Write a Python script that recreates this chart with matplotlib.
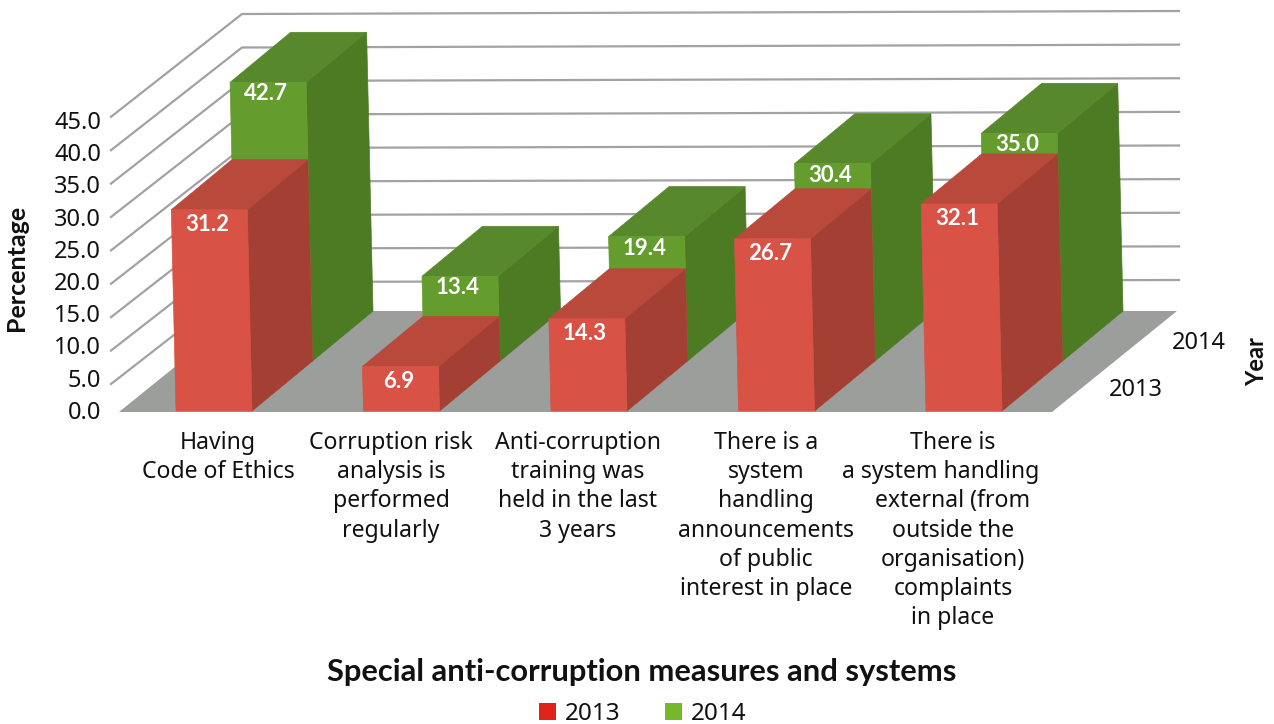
import matplotlib
matplotlib.use("Agg")
import matplotlib.pyplot as plt
from matplotlib.patches import Patch, Polygon

plt.rcParams['font.family'] = ['Noto Sans', 'DejaVu Sans']
BOLD = ['Lato', 'DejaVu Sans']

categories = [
    "Having\nCode of Ethics",
    "Corruption risk\nanalysis is\nperformed\nregularly",
    "Anti-corruption\ntraining was\nheld in the last\n3 years",
    "There is a\nsystem\nhandling\nannouncements\nof public\ninterest in place",
    "There is\na system handling    \nexternal (from\noutside the\norganisation)\ncomplaints\nin place",
]
values_2013 = [31.2, 6.9, 14.3, 26.7, 32.1]
values_2014 = [42.7, 13.4, 19.4, 30.4, 35.0]
y_ticks = [0, 5, 10, 15, 20, 25, 30, 35, 40, 45]
years = ["2013", "2014"]

# colours: front, top, side
RED = ("#D85246", "#B8493B", "#A43F34")
GREEN = ("#649C2E", "#57882B", "#4C7B23")

BAR_W = 76
SLOT = 187.5
LEAN = 0.15
FLOOR_Y = 411


def project(cat, row, v):
    # row 0 = 2013, row 1 = 2014; returns front-left corner of the bar top
    unit = [6.45, 6.62][row]
    drop = [0, 4][row]
    base_x = 176 + SLOT * cat + 60.5 * row
    base_y = FLOOR_Y - 50 * row
    h = unit * v - drop if v > 0 else 0
    return base_x - LEAN * v, base_y - h


def draw_bar(ax, cat, row, v, colours, z):
    front, top, side = colours
    xb, yb = project(cat, row, 0)
    xt, yt = project(cat, row, v)
    dx, dy = 60.5, -50
    ax.add_patch(Polygon([(xb + BAR_W, yb), (xt + BAR_W, yt), (xt + BAR_W + dx, yt + dy), (xb + BAR_W + dx, yb + dy)],
                         fc=side, ec=side, lw=0.5, zorder=z))
    ax.add_patch(Polygon([(xt, yt), (xt + BAR_W, yt), (xt + BAR_W + dx, yt + dy), (xt + dx, yt + dy)],
                         fc=top, ec=top, lw=0.5, zorder=z))
    ax.add_patch(Polygon([(xb, yb), (xb + BAR_W, yb), (xt + BAR_W, yt), (xt, yt)],
                         fc=front, ec=front, lw=0.5, zorder=z))
    label_dy = [15, 11.5][row]
    ax.text(xt + BAR_W / 2 - 2, yt + label_dy, f"{v:.1f}", color="white", fontsize=16, fontweight="bold",
            family=BOLD, ha="center", va="center", zorder=z + 1)


fig = plt.figure(figsize=(12.74, 7.24), dpi=100)
ax = fig.add_axes([0, 0, 1, 1])
ax.set_xlim(0, 1274)
ax.set_ylim(724, 0)
ax.axis("off")

# walls
for t in y_ticks[1:]:
    left_y = 384 - (t - 5) * 6.68
    back_y = 282 - (t - 5) * 6.7
    right_y = 280 - (t - 5) * 6.725
    ax.plot([111, 242, 1179], [left_y, back_y, right_y], color="#A2A2A2", lw=1.6, zorder=1)

# floor
ax.add_patch(Polygon([(119, 412), (1052, 412), (1177, 311), (244, 311)], fc="#9C9E9C", ec="none", zorder=2))

for i, v in enumerate(values_2014):
    draw_bar(ax, i, 1, v, GREEN, 3)
for i, v in enumerate(values_2013):
    draw_bar(ax, i, 0, v, RED, 5)

for t in y_ticks:
    ax.text(101, 413 - 6.45 * t, f"{t:.1f}", fontsize=17, ha="right", va="center", color="#111111")

label_x = [218, 391, 578, 766, 953]
for x, lab in zip(label_x, categories):
    ax.text(x, 431, lab, fontsize=16.6, ha="center", va="top", color="#111111", linespacing=1.29)

ax.text(1136, 390, years[0], fontsize=17, ha="center", va="center", color="#111111")
ax.text(1199, 343, years[1], fontsize=17, ha="center", va="center", color="#111111")

ax.text(17, 268, "Percentage", fontsize=18, fontweight="bold", family=BOLD, rotation=90, ha="center", va="center", color="#111111")
ax.text(1257, 362, "Year", fontsize=17, fontweight="bold", family=BOLD, rotation=90, ha="center", va="center", color="#111111")
ax.text(642, 672, "Special anti-corruption measures and systems", fontsize=22.2, fontweight="bold", family=BOLD,
        ha="center", va="center", color="#111111")

handles = [Patch(fc="#E2231A", label=years[0]), Patch(fc="#76B82A", label=years[1])]
ax.legend(handles=handles, ncol=2, frameon=False, fontsize=17.5, loc="center", bbox_to_anchor=(643 / 1274, 1 - 714 / 724),
          handlelength=0.7, handleheight=0.7, handletextpad=0.35, columnspacing=1.85, labelcolor="#111111")

fig.savefig("out.png", dpi=100)
